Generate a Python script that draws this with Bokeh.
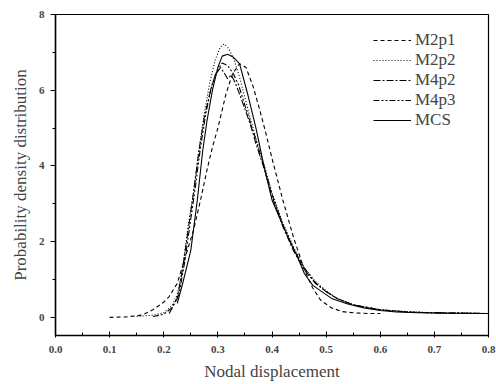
from bokeh.plotting import figure
from bokeh.models import FixedTicker, Range1d, Legend, LegendItem, NumeralTickFormatter
from bokeh.embed import file_html
from bokeh.resources import INLINE

# ---- data ----
m2p1_x = [0.10, 0.13, 0.16, 0.18, 0.20, 0.21, 0.225, 0.24, 0.255, 0.268, 0.28, 0.29, 0.30, 0.315,
          0.327, 0.34, 0.352, 0.365, 0.377, 0.388, 0.40, 0.42, 0.44, 0.46, 0.475, 0.49, 0.51, 0.53,
          0.55, 0.58, 0.60]
m2p1_y = [0.0, 0.01, 0.06, 0.2, 0.4, 0.55, 0.9, 1.6, 2.3, 3.1, 3.9, 4.5, 5.0, 5.9,
          6.43, 6.7, 6.6, 6.1, 5.5, 4.9, 4.2, 3.1, 2.1, 1.25, 0.78, 0.45, 0.25, 0.15,
          0.12, 0.1, 0.1]

m2p2_x = [0.15, 0.18, 0.20, 0.215, 0.225, 0.235, 0.245, 0.255, 0.265, 0.275, 0.285, 0.295, 0.305,
          0.312, 0.32, 0.33, 0.34, 0.35, 0.36, 0.37, 0.385, 0.40, 0.42, 0.44, 0.46, 0.48, 0.50,
          0.52, 0.55, 0.60, 0.65, 0.70, 0.80]
m2p2_y = [0.02, 0.06, 0.12, 0.3, 0.6, 1.3, 2.4, 3.3, 4.4, 5.4, 6.2, 6.8, 7.15,
          7.22, 7.1, 6.8, 6.35, 5.8, 5.25, 4.75, 4.05, 3.3, 2.5, 1.85, 1.3, 0.95, 0.7,
          0.5, 0.33, 0.2, 0.15, 0.12, 0.1]

m4p2_x = [0.21, 0.225, 0.235, 0.245, 0.255, 0.265, 0.275, 0.285, 0.295, 0.305, 0.312, 0.318,
          0.325, 0.332, 0.34, 0.35, 0.36, 0.37, 0.385, 0.40, 0.42, 0.44, 0.46, 0.48, 0.50,
          0.52, 0.55, 0.60, 0.65, 0.70, 0.80]
m4p2_y = [0.1, 0.5, 1.3, 2.3, 3.3, 4.4, 5.3, 5.9, 6.4, 6.6, 6.45, 6.3,
          6.4, 6.2, 5.9, 5.5, 5.1, 4.6, 3.95, 3.2, 2.4, 1.75, 1.25, 0.9, 0.68,
          0.5, 0.33, 0.2, 0.14, 0.12, 0.1]

m4p3_x = [0.18, 0.20, 0.215, 0.228, 0.238, 0.248, 0.258, 0.268, 0.278, 0.288, 0.298, 0.308,
          0.318, 0.328, 0.338, 0.35, 0.36, 0.37, 0.385, 0.40, 0.42, 0.44, 0.46, 0.48, 0.50,
          0.52, 0.55, 0.60, 0.65, 0.70, 0.80]
m4p3_y = [0.02, 0.08, 0.25, 0.6, 1.4, 2.4, 3.4, 4.5, 5.4, 6.1, 6.5, 6.72,
          6.65, 6.45, 6.15, 5.6, 5.15, 4.7, 4.0, 3.25, 2.45, 1.8, 1.3, 0.92, 0.68,
          0.5, 0.33, 0.2, 0.14, 0.12, 0.1]

mcs_x = [0.225, 0.235, 0.25, 0.262, 0.272, 0.28, 0.29, 0.30, 0.308, 0.318, 0.328, 0.34, 0.355,
         0.371, 0.385, 0.40, 0.415, 0.43, 0.447, 0.46, 0.475, 0.49, 0.51, 0.54, 0.57, 0.60,
         0.63, 0.67, 0.72, 0.80]
mcs_y = [0.37, 0.9, 1.77, 3.1, 4.4, 5.2, 6.0, 6.6, 6.9, 6.95, 6.88, 6.7, 5.9,
         4.96, 4.0, 3.1, 2.6, 2.1, 1.6, 1.15, 0.85, 0.7, 0.5, 0.35, 0.25, 0.18,
         0.14, 0.12, 0.11, 0.1]

series_names = ["M2p1", "M2p2", "M4p2", "M4p3", "MCS"]
x_ticks = [0.0, 0.1, 0.2, 0.3, 0.4, 0.5, 0.6, 0.7, 0.8]
y_ticks = [0, 2, 4, 6, 8]

FONT = "Liberation Serif"

p = figure(width=496, height=384, output_backend="svg", toolbar_location=None,
           x_range=Range1d(0, 0.8), y_range=Range1d(-0.48, 8.0),
           min_border_left=55, min_border_right=8, min_border_top=14, min_border_bottom=49)
p.xgrid.visible = False
p.ygrid.visible = False
p.outline_line_color = "black"
p.outline_line_width = 1.2
p.background_fill_color = "white"
p.border_fill_color = "white"

styles = [
    (m2p1_x, m2p1_y, "4 3"),
    (m2p2_x, m2p2_y, "1 2"),
    (m4p2_x, m4p2_y, "7 2 2 2"),
    (m4p3_x, m4p3_y, "6 2 2 2 2 2"),
    (mcs_x, mcs_y, "solid"),
]
items = []
for name, (xs, ys, dash) in zip(series_names, styles):
    r = p.line(xs, ys, line_color="black", line_width=1.1, line_dash=dash)
    items.append(LegendItem(label=name, renderers=[r]))

legend = Legend(items=items, location=(318, 205), margin=0, padding=0, spacing=0,
                glyph_width=38, glyph_height=20, label_height=20, label_standoff=4,
                label_text_font=FONT, label_text_font_size="17px",
                border_line_color=None, background_fill_alpha=0)
p.add_layout(legend)

xa = p.xaxis[0]
xa.ticker = FixedTicker(ticks=x_ticks, minor_ticks=[0.05, 0.15, 0.25, 0.35, 0.45, 0.55, 0.65, 0.75])
xa.formatter = NumeralTickFormatter(format="0.0")
xa.axis_label = "Nodal displacement"
xa.major_tick_in = 4
xa.major_tick_out = 2
xa.minor_tick_in = 3
xa.minor_tick_out = 0
xa.major_label_standoff = 8
xa.axis_label_standoff = 6

ya = p.yaxis[0]
ya.ticker = FixedTicker(ticks=y_ticks, minor_ticks=[1, 3, 5, 7])
ya.formatter = NumeralTickFormatter(format="0")
ya.axis_label = "Probability density distribution"
ya.major_tick_in = 0
ya.major_tick_out = 5
ya.minor_tick_in = 0
ya.minor_tick_out = 3
ya.major_label_standoff = 6
ya.axis_label_standoff = 6

for ax in (xa, ya):
    ax.axis_line_width = 1.5
    ax.major_label_text_font = FONT
    ax.major_label_text_font_size = "11px"
    ax.major_label_text_font_style = "bold"
    ax.axis_label_text_font = FONT
    ax.axis_label_text_font_size = "17px"
    ax.axis_label_text_font_style = "normal"

open("out.html", "w").write(file_html(p, INLINE))
